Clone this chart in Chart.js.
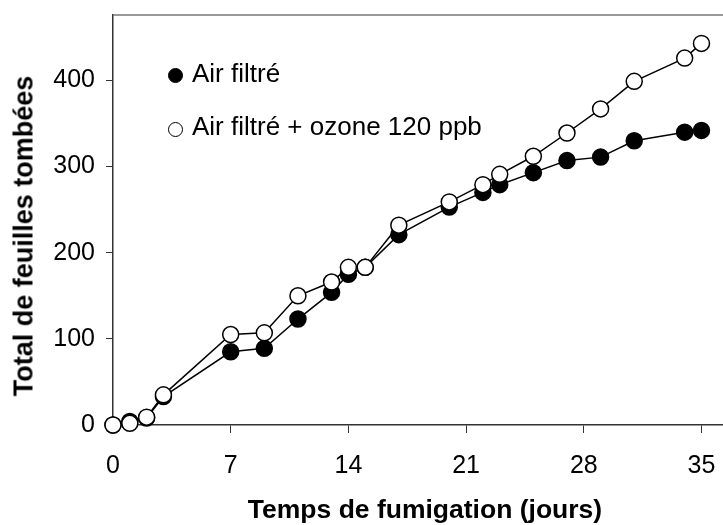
<!DOCTYPE html>
<html>
<head>
<meta charset="utf-8">
<script src="https://cdn.jsdelivr.net/npm/chart.js@4.4.0/dist/chart.umd.min.js"></script>
<style>
  html, body { margin: 0; padding: 0; background: #fff; }
  #wrap { position: relative; width: 723px; height: 525px; overflow: hidden; }
  canvas { display: block; }
  .leg { position: absolute; font-family: "Liberation Sans", Arial, sans-serif; font-size: 26px; line-height: 26px; color: #000; white-space: nowrap; }
  .dot { position: absolute; width: 13px; height: 13px; border-radius: 50%; border: 1.5px solid #000; }
  .axt { position: absolute; font-family: "Liberation Sans", Arial, sans-serif; font-weight: bold; color: #000; white-space: nowrap; transform: translate(-50%, -50%); }
</style>
</head>
<body>
<div id="wrap">
  <canvas id="chart" width="733" height="525"></canvas>
  <div class="dot" style="left:168px;top:68px;background:#000"></div>
  <div class="leg" style="left:192px;top:60px">Air filtré</div>
  <div class="dot" style="left:168px;top:122px;background:#fff"></div>
  <div class="leg" style="left:192px;top:113px">Air filtré + ozone 120 ppb</div>
  <div class="axt" style="left:425px;top:509px;font-size:26.5px;line-height:26.5px">Temps de fumigation (jours)</div>
  <div class="axt" style="left:24px;top:236px;font-size:27px;line-height:27px;transform:translate(-50%,-50%) rotate(-90deg)">Total de feuilles tombées</div>
</div>

<script>
// jours de fumigation
const days = [0, 1, 2, 3, 7, 9, 11, 13, 14, 15, 17, 20, 22, 23, 25, 27, 29, 31, 34, 35];
// total cumulé de feuilles tombées
const airFiltre = [0, 4, 8, 33, 85, 89, 123, 154, 175, 183, 221, 253, 270, 279, 293, 307, 311, 330, 340, 342];
const airOzone  = [0, 2, 9, 35, 105, 107, 150, 166, 183, 183, 232, 259, 279, 291, 312, 339, 367, 399, 426, 443];

const xTicks = [0, 7, 14, 21, 28, 35];
const yTicks = [0, 100, 200, 300, 400];

const FONT = '"Liberation Sans", Arial, sans-serif';

const toPoints = arr => days.map((d, i) => ({ x: d, y: arr[i] }));

// ligne du haut du cadre (pas de bord droit visible)
const topBorder = {
  id: 'topBorder',
  beforeDatasetsDraw(ch) {
    const a = ch.chartArea, ctx = ch.ctx;
    ctx.save();
    ctx.strokeStyle = '#777';
    ctx.lineWidth = 1.5;
    ctx.beginPath();
    ctx.moveTo(a.left, a.top);
    ctx.lineTo(a.right + 20, a.top);
    ctx.stroke();
    ctx.restore();
  }
};

new Chart(document.getElementById('chart').getContext('2d'), {
  type: 'line',
  data: {
    datasets: [
      {
        label: 'Air filtré + ozone 120 ppb',
        data: toPoints(airOzone),
        order: 0,
        borderColor: '#000',
        borderWidth: 1.5,
        pointRadius: 8,
        pointBorderWidth: 1.5,
        pointBackgroundColor: '#fff',
        pointBorderColor: '#000',
        tension: 0,
        clip: false
      },
      {
        label: 'Air filtré',
        data: toPoints(airFiltre),
        order: 1,
        borderColor: '#000',
        borderWidth: 1.5,
        pointRadius: 8,
        pointBorderWidth: 1.5,
        pointBackgroundColor: '#000',
        pointBorderColor: '#000',
        tension: 0,
        clip: false
      }
    ]
  },
  options: {
    responsive: false,
    animation: false,
    layout: { padding: { left: 0, right: 0, top: 15, bottom: 0 } },
    plugins: { legend: { display: false }, tooltip: { enabled: false } },
    scales: {
      x: {
        type: 'linear',
        min: 0,
        max: 36.31,
        afterBuildTicks: s => { s.ticks = xTicks.map(v => ({ value: v })); },
        afterFit: s => { s.height = 100; s.paddingLeft = 0; s.paddingRight = 0; },
        grid: { drawOnChartArea: false, tickLength: 8, color: '#333', tickWidth: 1 },
        border: { color: '#333', width: 1.5 },
        ticks: { color: '#000', font: { family: FONT, size: 25 }, padding: 18, maxRotation: 0 }
      },
      y: {
        min: 0,
        max: 476,
        afterBuildTicks: s => { s.ticks = yTicks.map(v => ({ value: v })); },
        afterFit: s => { s.width = 113; s.paddingTop = 0; s.paddingBottom = 0; },
        grid: { drawOnChartArea: false, tickLength: 7, color: '#333', tickWidth: 1 },
        border: { color: '#333', width: 1.5 },
        ticks: { color: '#000', font: { family: FONT, size: 25 }, padding: 11 }
      }
    }
  },
  plugins: [topBorder]
});
</script>
</body>
</html>
